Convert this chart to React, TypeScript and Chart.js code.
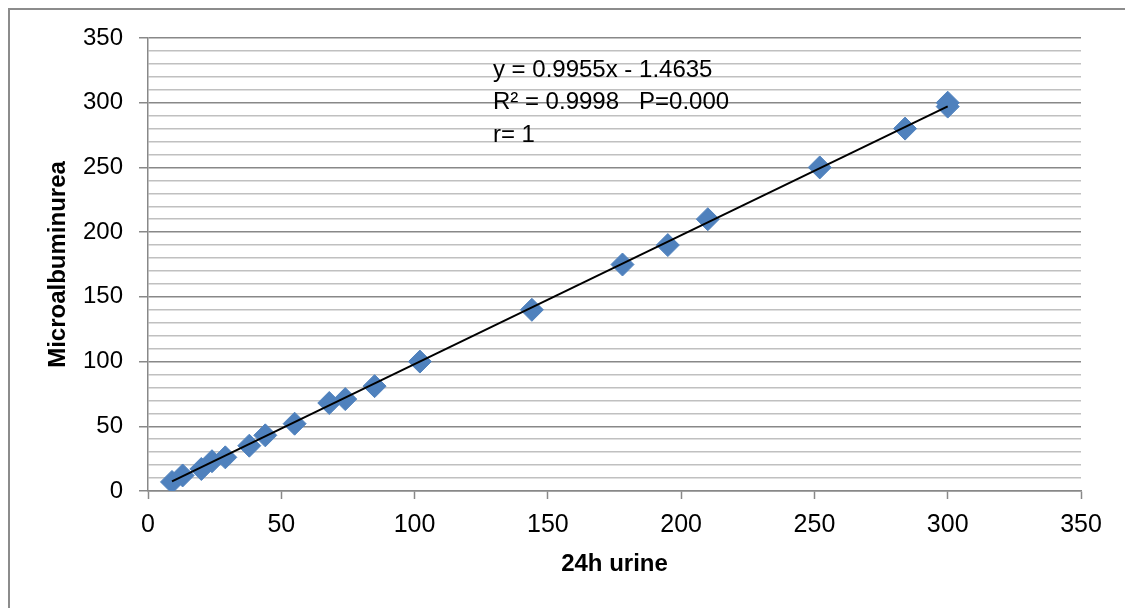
import React, { useEffect, useRef } from "react";
import { Chart, registerables } from "chart.js";

Chart.register(...registerables);

// Data
const urine24h = [9, 13, 20, 24, 29, 38, 44, 55, 68, 74, 85, 102, 144, 178, 195, 210, 252, 284, 300, 300];
const microalb = [7, 12, 17, 23, 26, 35, 43, 52, 68, 71, 81, 100, 140, 175, 190, 210, 250, 280, 300, 297];

// Linear trendline endpoints (y = 0.9955x - 1.4635)
const trendX = [9, 300];
const trendY = [7.5, 297.2];

const annotationLines = ["y = 0.9955x - 1.4635", "R\u00B2 = 0.9998   P=0.000", "r= 1"];
const annotationAnchor = { x: 129.4, y: 320 };

const xTitle = "24h urine";
const yTitle = "Microalbuminurea";

const FONT = "'Liberation Sans', Arial, sans-serif";
const MAJOR = "#888888";
const MINOR = "#c0c0c0";
const BLUE = "#4F81BD";

const annotationPlugin = {
  id: "trendAnnotation",
  afterDatasetsDraw(chart: any) {
    const { ctx, scales } = chart;
    const x = scales.x.getPixelForValue(annotationAnchor.x);
    const y = scales.y.getPixelForValue(annotationAnchor.y);
    ctx.save();
    ctx.fillStyle = "#000";
    ctx.font = `24px ${FONT}`;
    ctx.textAlign = "left";
    ctx.textBaseline = "alphabetic";
    annotationLines.forEach((line, i) => {
      ctx.fillText(line, x, y + i * 32.5);
    });
    ctx.restore();
  },
};

export default function App() {
  const ref = useRef<HTMLCanvasElement | null>(null);

  useEffect(() => {
    document.documentElement.style.overflow = "hidden";
    const canvas = ref.current;
    if (!canvas) return;
    const chart = new Chart(canvas, {
      type: "scatter",
      data: {
        datasets: [
          {
            type: "line",
            label: "Trend",
            data: trendX.map((x, i) => ({ x, y: trendY[i] })),
            borderColor: "#000",
            borderWidth: 2,
            pointRadius: 0,
            fill: false,
            order: 0,
          } as any,
          {
            label: "Microalbuminurea",
            data: urine24h.map((x, i) => ({ x, y: microalb[i] })),
            pointStyle: "rectRot",
            pointRadius: 11.5,
            backgroundColor: BLUE,
            borderColor: BLUE,
            borderWidth: 1,
            order: 1,
          },
        ],
      },
      options: {
        animation: false,
        responsive: false,
        devicePixelRatio: 1,
        layout: { padding: { left: 40, top: 38, right: 44, bottom: 25 } },
        plugins: { legend: { display: false }, tooltip: { enabled: false } },
        scales: {
          x: {
            type: "linear",
            min: 0,
            max: 350,
            afterFit: (s: any) => {
              s.height = 92;
            },
            ticks: {
              stepSize: 50,
              color: "#000",
              font: { family: FONT, size: 25 },
              padding: 11,
              maxRotation: 0,
            },
            grid: {
              drawOnChartArea: false,
              drawTicks: true,
              tickLength: 8,
              tickColor: MAJOR,
              tickWidth: 1.5,
            },
            border: { display: true, color: MAJOR, width: 1.5 },
            title: {
              display: true,
              text: xTitle,
              color: "#000",
              font: { family: FONT, size: 24, weight: "bold" },
              padding: { top: 4, bottom: 4 },
            },
          },
          y: {
            type: "linear",
            min: 0,
            max: 350,
            afterFit: (s: any) => {
              s.width = 108;
            },
            ticks: {
              stepSize: 10,
              color: "#000",
              font: { family: FONT, size: 24 },
              padding: 16,
              autoSkip: false,
              callback: (v: any) => (Number(v) % 50 === 0 ? String(v) : ""),
            },
            grid: {
              drawOnChartArea: true,
              drawTicks: true,
              tickLength: 9,
              color: (c: any) => (c.tick && c.tick.value % 50 === 0 ? MAJOR : MINOR),
              tickColor: (c: any) => (c.tick && c.tick.value % 50 === 0 ? MAJOR : "rgba(0,0,0,0)"),
              lineWidth: 1.5,
              tickWidth: 1.5,
            },
            border: { display: true, color: MAJOR, width: 1.5 },
            title: {
              display: true,
              text: yTitle,
              color: "#000",
              font: { family: FONT, size: 24, weight: "bold" },
              padding: { top: 4, bottom: 4 },
            },
          },
        },
      },
      plugins: [annotationPlugin],
    });
    return () => chart.destroy();
  }, []);

  return (
    <div style={{ position: "fixed", left: 0, top: 0, width: 1125, height: 608, overflow: "hidden", background: "#fff" }}>
      <div
        style={{
          position: "absolute",
          left: 8,
          top: 8,
          width: 1140,
          height: 640,
          border: "2px solid #8c8c8c",
          boxSizing: "border-box",
        }}
      />
      <canvas ref={ref} width={1125} height={608} style={{ position: "absolute", left: 0, top: 0, width: 1125, height: 608 }} />
    </div>
  );
}
